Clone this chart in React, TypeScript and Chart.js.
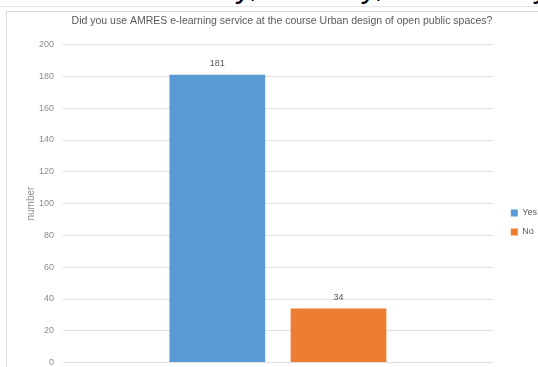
import React, { useEffect, useRef } from "react";
import { Chart, registerables } from "chart.js";

Chart.register(...registerables);

const categories = [""];
const seriesNames = ["Yes", "No"];
const yesValues = [181];
const noValues = [34];
const seriesColors = ["#5B9BD5", "#ED7D31"];
const titleText = "Did you use AMRES e-learning service at the course Urban design of open public spaces?";
const yAxisTitle = "number";
const topFragment = "The e-learning service was accessed weekly, 38 daily, 33 monthly,";

const valueLabels = {
  id: "valueLabels",
  afterDatasetsDraw(chart: any) {
    const ctx = chart.ctx;
    ctx.save();
    ctx.font = "9px 'Liberation Sans', sans-serif";
    ctx.fillStyle = "#595959";
    ctx.textAlign = "center";
    ctx.textBaseline = "bottom";
    chart.data.datasets.forEach((ds: any, i: number) => {
      const meta = chart.getDatasetMeta(i);
      meta.data.forEach((el: any, j: number) => {
        ctx.fillText(String(ds.data[j]), el.x, el.y - 7);
      });
    });
    ctx.restore();
  },
};

const legendShift = {
  id: "legendShift",
  afterLayout(chart: any) {
    const lg = chart.legend;
    if (lg) {
      lg.left += 8;
      lg.right += 8;
      lg.top += 32;
      lg.bottom += 32;
    }
  },
};

export default function App() {
  const ref = useRef<HTMLCanvasElement>(null);
  useEffect(() => {
    if (!ref.current) return;
    const chart = new Chart(ref.current, {
      type: "bar",
      data: {
        labels: categories,
        datasets: [
          { label: seriesNames[0], data: yesValues, backgroundColor: seriesColors[0], categoryPercentage: 0.564, barPercentage: 0.79 },
          { label: seriesNames[1], data: noValues, backgroundColor: seriesColors[1], categoryPercentage: 0.564, barPercentage: 0.79 },
        ],
      },
      options: {
        animation: false,
        responsive: false,
        maintainAspectRatio: false,
        layout: { padding: { left: 18, right: 28, top: 9, bottom: 5 } },
        plugins: {
          title: {
            display: true,
            text: titleText,
            color: "#595959",
            font: { family: "'Liberation Sans', sans-serif", size: 10.5, weight: "normal" },
            padding: { top: 6, bottom: 17 },
          },
          legend: {
            position: "right",
            labels: {
              boxWidth: 7,
              boxHeight: 7,
              color: "#595959",
              font: { family: "'Liberation Sans', sans-serif", size: 9 },
              padding: 10,
            },
          },
          tooltip: { enabled: false },
        },
        scales: {
          x: {
            display: false,
          },
          y: {
            min: 0,
            max: 200,
            afterFit: (axis: any) => {
              axis.width = 38;
            },
            ticks: {
              stepSize: 20,
              color: "#8c8c8c",
              font: { family: "'Liberation Sans', sans-serif", size: 9 },
              padding: 9,
            },
            grid: { color: "#e0e0e0", drawTicks: false },
            border: { display: false },
            title: {
              display: true,
              text: yAxisTitle,
              color: "#8c8c8c",
              font: { family: "'Liberation Sans', sans-serif", size: 10 },
              padding: { top: 0, bottom: 0 },
            },
          },
        },
      },
      plugins: [valueLabels, legendShift],
    });
    return () => chart.destroy();
  }, []);
  return (
    <div style={{ position: "fixed", left: 0, top: 0, width: 538, height: 367, overflow: "hidden", background: "#fff" }}>
      <div style={{ position: "absolute", left: 0, top: 0, width: 538, height: 6, overflow: "hidden" }}>
        <div style={{ position: "absolute", right: -17, top: -32, whiteSpace: "nowrap", fontFamily: "'Liberation Sans', sans-serif", fontSize: 32, color: "#000", lineHeight: "37px" }}>
          {topFragment}
        </div>
      </div>
      <div style={{ position: "absolute", left: 0, top: 6, width: 538, height: 1, background: "#e6e6e6" }} />
      <div style={{ position: "absolute", left: 6, top: 11, width: 560, height: 380, border: "1px solid #d9d9d9", boxSizing: "border-box" }} />
      <canvas ref={ref} width={560} height={377} style={{ position: "absolute", left: 7, top: 0 }} />
    </div>
  );
}
